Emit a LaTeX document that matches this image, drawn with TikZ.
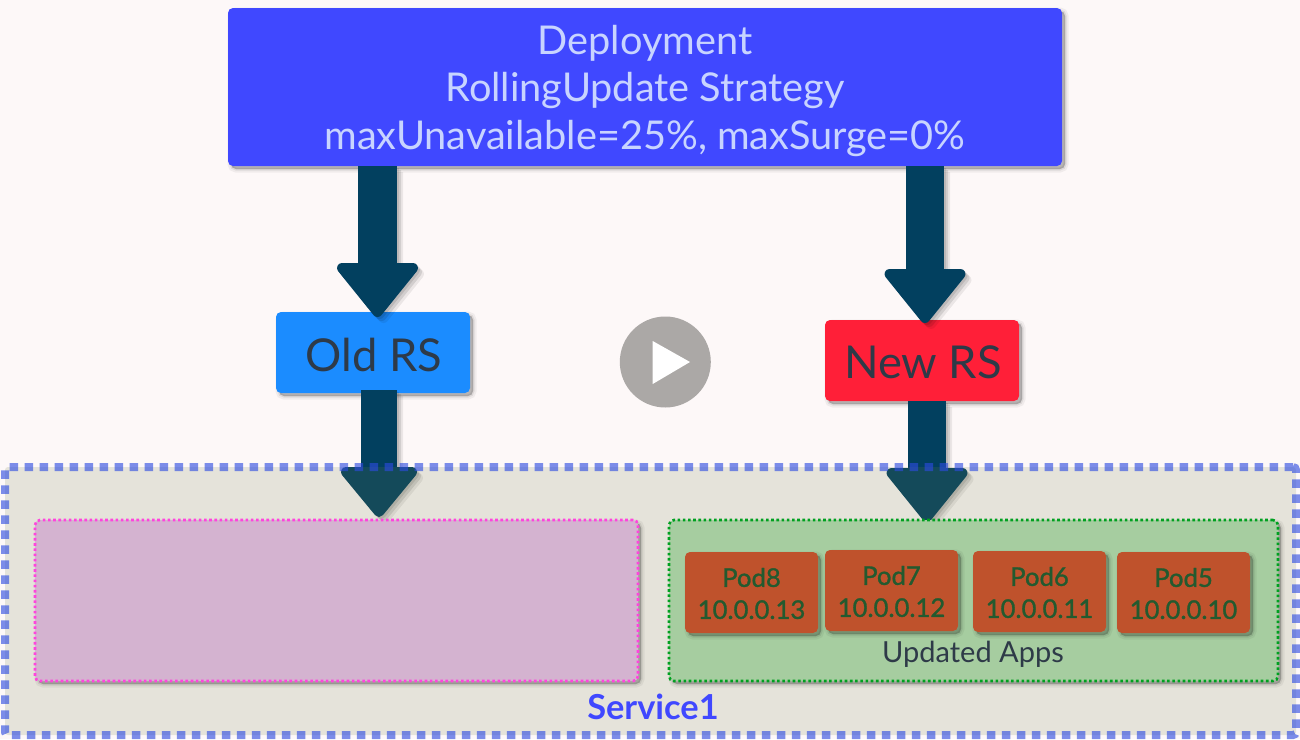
\documentclass[tikz,border=0pt]{standalone}
\usepackage{fontspec}
\setmainfont{Lato}
\usetikzlibrary{calc}
\definecolor{pagebg}{HTML}{FDF8F8}
\definecolor{deployblue}{HTML}{4048FF}
\definecolor{deploytext}{HTML}{C8D4FF}
\definecolor{arrowblue}{HTML}{02405F}
\definecolor{oldblue}{HTML}{1B8CFF}
\definecolor{newred}{HTML}{FF1F38}
\definecolor{rstext}{HTML}{2E3A48}
\definecolor{servfill}{RGB}{112,125,71}
\definecolor{servline}{RGB}{45,75,225}
\definecolor{pinkfill}{HTML}{D4B3D0}
\definecolor{pinkline}{HTML}{FF44DD}
\definecolor{greenfill}{HTML}{A6CDA0}
\definecolor{greenline}{HTML}{00A020}
\definecolor{podfill}{HTML}{BF522C}
\definecolor{podtext}{HTML}{235A2F}
\definecolor{playgray}{HTML}{ABA8A6}
\tikzset{
  softshadow/.style={
    preaction={draw=black,fill=black,solid,opacity=.05,line width=7pt,transform canvas={shift={(#1,-#1)}}},
    preaction={draw=black,fill=black,solid,opacity=.08,line width=3pt,transform canvas={shift={(#1,-#1)}}},
    preaction={fill=black,opacity=.12,draw=none,transform canvas={shift={(#1,-#1)}}}},
  box/.style={rectangle,rounded corners=5pt,inner sep=0pt,align=center},
  podbox/.style={box,softshadow=3pt,fill=podfill,text=podtext,minimum width=133pt,minimum height=81pt},
  rsbox/.style={box,softshadow=3pt,minimum width=194pt,minimum height=81pt},
  dotbox/.style={box,softshadow=3pt,line width=2.6pt,dash pattern=on 2.6pt off 2.6pt,minimum height=161pt}
}
% shaft from #1 to #2, width #3; head on #2 with inner half width #4, inner length #5 (corners rounded by a 10pt round stroke)
\newcommand{\arrowshape}[6]{%
  \draw[#6,line width=#3,shorten >=#5-6pt] (#1) -- (#2);
  \draw[#6,fill=#6,line width=10pt,line join=round] ($(#2)+(-#4,#5)$) -- ($(#2)+(#4,#5)$) -- ($(#2)+(0pt,5pt)$) -- cycle;
}
\newcommand{\blockarrow}[5]{%
  \foreach \off/\op in {2pt/.10,4pt/.10,6pt/.07}{
    \begin{scope}[transparency group,opacity=\op,transform canvas={shift={(\off,-\off)}}]
      \arrowshape{#1}{#2}{#3}{#4}{#5}{black}
    \end{scope}}
  \arrowshape{#1}{#2}{#3}{#4}{#5}{arrowblue}
}
\begin{document}
\begin{tikzpicture}[x=1pt,y=-1pt]
\useasboundingbox (0,0) rectangle (1300,739);
\fill[pagebg] (0,0) rectangle (1300,739);
\node[box,softshadow=3pt,fill=deployblue,minimum width=834pt,minimum height=158pt] (dep) at (645,87) {};
\node[align=center,inner sep=0pt,text=deploytext,font=\fontsize{39.7}{47.5}\selectfont] (deplabel) at (645,91) {Deployment\\RollingUpdate Strategy\\maxUnavailable=25\%, maxSurge=0\%};
\node[rsbox,fill=oldblue] (oldrs) at (373,352.5) {};
\node[font=\fontsize{45.3}{50}\selectfont,text=rstext,inner sep=0pt] (oldlabel) at (374,354.5) {Old RS};
\node[rsbox,fill=newred] (newrs) at (922,360.5) {};
\node[font=\fontsize{45.3}{50}\selectfont,text=rstext,inner sep=0pt] (newlabel) at (923,362.5) {New RS};
\node[circle,fill=playgray,minimum size=91pt,inner sep=0pt] (play) at (665.3,362) {};
\fill[white] (652.7,341) -- (690,362) -- (652.7,384) -- cycle;
\coordinate (t1) at (377.5,317);
\coordinate (t2) at (925,323);
\coordinate (s3) at (379,390);
\coordinate (t3) at (379,517);
\coordinate (s4) at (927,401);
\coordinate (t4) at (927,522);
\blockarrow{dep.south -| t1}{t1}{39pt}{35.5pt}{49pt}
\blockarrow{dep.south -| t2}{t2}{38pt}{35.5pt}{49pt}
\blockarrow{s3}{t3}{36pt}{33pt}{45pt}
\blockarrow{s4}{t4}{38pt}{35.5pt}{49pt}
\node[rectangle,rounded corners=3pt,inner sep=0pt,fill=servfill,fill opacity=.17,draw=servline,draw opacity=.62,
  line width=8pt,dash pattern=on 8.5pt off 6.5pt,minimum width=1291pt,minimum height=268pt] (serv) at (650.5,601) {};
\node[font=\fontsize{34.4}{36}\selectfont\bfseries,text=deployblue] (servlabel) at (653,707) {Service1};
\node[dotbox,fill=pinkfill,draw=pinkline,minimum width=603pt] (oldapps) at (336.5,600.5) {};
\node[dotbox,fill=greenfill,draw=greenline,minimum width=609pt] (newapps) at (973.5,600.5) {};
\node[podbox] (pod8) at (751.5,592.5) {};
\node[podbox] (pod7) at (891.5,590.5) {};
\node[podbox] (pod6) at (1039.5,591.5) {};
\node[podbox] (pod5) at (1183.5,592.5) {};
\foreach \n/\l/\a/\y in {pod8/Pod8/10.0.0.13/593.5,pod7/Pod7/10.0.0.12/591.5,pod6/Pod6/10.0.0.11/592.5,pod5/Pod5/10.0.0.10/593.5}
  \node[inner sep=0pt,align=center,text=podtext,font=\fontsize{25.7}{32}\selectfont\addfontfeature{FakeBold=1.2}] (\n label) at (\n.center |- 0,\y) {\l\\\a};
\node[font=\fontsize{29}{30}\selectfont,text=rstext] (apps) at (973,654.5) {Updated Apps};
\end{tikzpicture}
\end{document}
